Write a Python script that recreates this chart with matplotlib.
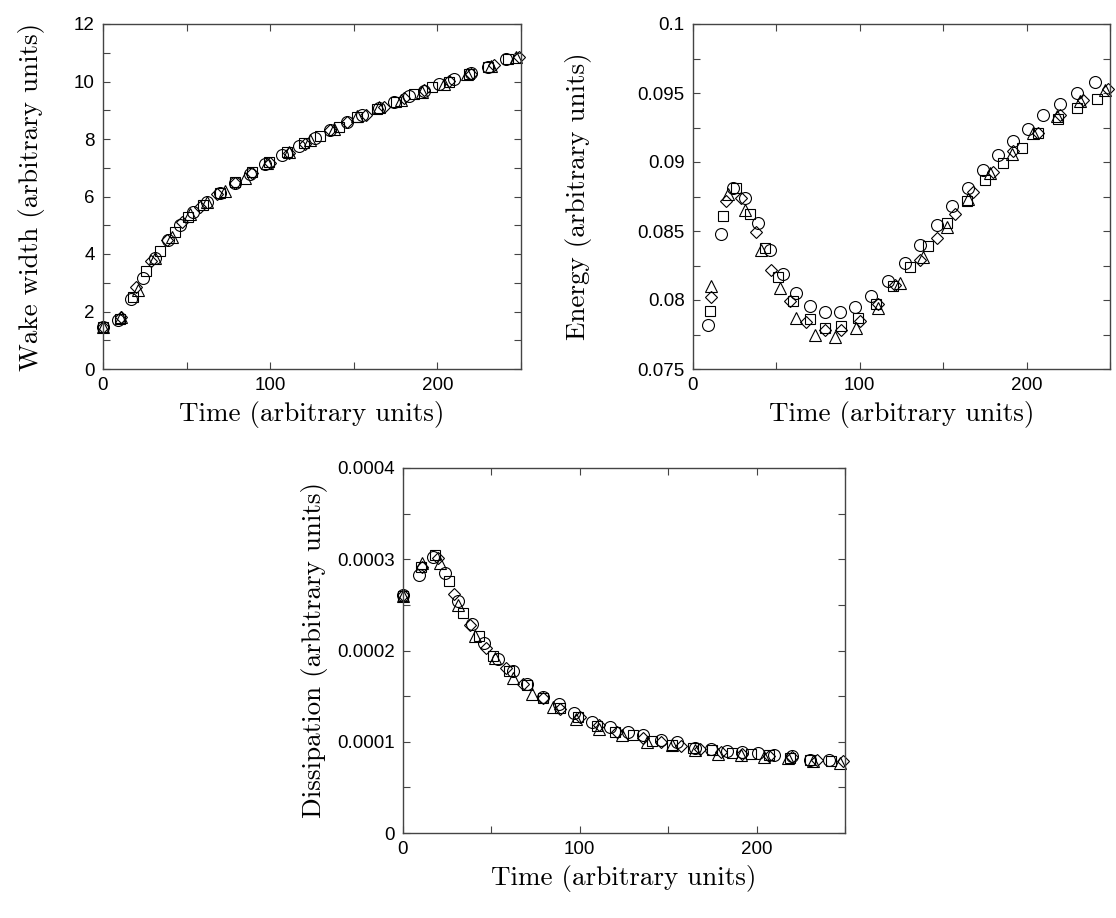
import matplotlib
matplotlib.use("Agg")
import matplotlib.pyplot as plt
import numpy as np

# ---- data ----
t_circle = [0, 9, 17, 24, 31, 39, 46, 54, 62, 70, 79, 88, 97, 107, 117, 127, 136, 146, 155, 165, 174, 183, 192, 201, 210, 220, 230, 241]
w_circle = [1.45, 1.72, 2.42, 3.15, 3.85, 4.5, 5.0, 5.45, 5.8, 6.12, 6.48, 6.8, 7.12, 7.45, 7.75, 8.02, 8.3, 8.58, 8.82, 9.08, 9.28, 9.48, 9.68, 9.9, 10.08, 10.28, 10.5, 10.77]
e_circle = [0.0782, 0.0848, 0.0881, 0.0874, 0.0856, 0.0836, 0.0819, 0.0805, 0.0796, 0.0791, 0.0791, 0.0795, 0.0803, 0.0814, 0.0827, 0.0840, 0.0854, 0.0868, 0.0881, 0.0894, 0.0905, 0.0915, 0.0924, 0.0934, 0.0942, 0.0950, 0.0958]
d_circle = [0.000261, 0.000283, 0.000303, 0.000285, 0.000254, 0.000229, 0.000208, 0.000191, 0.000177, 0.000163, 0.000149, 0.000141, 0.000131, 0.000122, 0.000116, 0.000111, 0.000107, 0.000102, 0.000100, 0.0000932, 0.000092, 0.0000902, 0.0000884, 0.0000877, 0.0000858, 0.000084, 0.0000803, 0.0000803]

t_square = [0, 10, 18, 26, 34, 43, 51, 60, 70, 79, 89, 99, 110, 120, 130, 141, 152, 164, 175, 186, 197, 207, 219, 230, 242]
w_square = [1.45, 1.75, 2.5, 3.4, 4.1, 4.75, 5.3, 5.7, 6.12, 6.5, 6.85, 7.2, 7.55, 7.85, 8.12, 8.42, 8.75, 9.05, 9.3, 9.55, 9.8, 10.0, 10.27, 10.5, 10.8]
e_square = [0.0792, 0.0861, 0.0881, 0.0862, 0.0838, 0.0817, 0.0799, 0.0786, 0.0780, 0.0781, 0.0787, 0.0797, 0.0810, 0.0824, 0.0839, 0.0856, 0.0872, 0.0887, 0.0899, 0.0910, 0.0921, 0.0931, 0.0939, 0.0946]
d_square = [0.000260, 0.000291, 0.000305, 0.000276, 0.000241, 0.000216, 0.000194, 0.000178, 0.000162, 0.000148, 0.000137, 0.000127, 0.000117, 0.000111, 0.000107, 0.000101, 0.0000965, 0.000093, 0.0000913, 0.0000877, 0.0000866, 0.000085, 0.000082, 0.000080, 0.0000785]

t_diamond = [0, 11, 20, 29, 38, 47, 58, 68, 79, 89, 100, 111, 121, 136, 146, 157, 168, 180, 192, 207, 220, 234, 249]
w_diamond = [1.45, 1.8, 2.84, 3.75, 4.5, 5.1, 5.65, 6.08, 6.48, 6.82, 7.18, 7.52, 7.82, 8.3, 8.58, 8.85, 9.12, 9.42, 9.7, 10.03, 10.27, 10.58, 10.86]
e_diamond = [0.0802, 0.0872, 0.0874, 0.0849, 0.0822, 0.0799, 0.0784, 0.0778, 0.0778, 0.0785, 0.0797, 0.0811, 0.0829, 0.0845, 0.0862, 0.0878, 0.0893, 0.0908, 0.0921, 0.0934, 0.0945, 0.0953]
d_diamond = [0.000261, 0.000292, 0.000301, 0.000262, 0.000228, 0.000203, 0.000181, 0.000163, 0.000148, 0.000136, 0.000127, 0.000118, 0.000111, 0.000104, 0.000100, 0.0000957, 0.000092, 0.0000885, 0.0000865, 0.0000847, 0.000083, 0.000080, 0.0000785]

t_triangle = [0, 11, 21, 31, 41, 52, 62, 73, 85, 98, 111, 124, 138, 152, 165, 178, 191, 204, 218, 232, 247]
w_triangle = [1.45, 1.8, 2.75, 3.85, 4.6, 5.4, 5.8, 6.2, 6.65, 7.15, 7.55, 7.95, 8.35, 8.8, 9.1, 9.35, 9.65, 9.92, 10.25, 10.55, 10.84]
e_triangle = [0.0810, 0.0877, 0.0865, 0.0836, 0.0809, 0.0787, 0.0775, 0.0773, 0.0780, 0.0794, 0.0812, 0.0831, 0.0853, 0.0873, 0.0892, 0.0906, 0.0921, 0.0933, 0.0944, 0.0952]
d_triangle = [0.000260, 0.000296, 0.000296, 0.000250, 0.000216, 0.000192, 0.000170, 0.000152, 0.000138, 0.000125, 0.000114, 0.000107, 0.000100, 0.0000968, 0.0000913, 0.0000869, 0.0000858, 0.0000829, 0.0000822, 0.0000785, 0.0000767]

x_ticks = [0, 50, 100, 150, 200, 250]
x_labels = ["0", "", "100", "", "200", ""]
w_ticks = list(range(0, 13))
w_labels = [str(v) if v % 2 == 0 else "" for v in w_ticks]
e_ticks = [0.075, 0.0775, 0.08, 0.0825, 0.085, 0.0875, 0.09, 0.0925, 0.095, 0.0975, 0.1]
e_labels = ["0.075", "", "0.08", "", "0.085", "", "0.09", "", "0.095", "", "0.1"]
d_ticks = [0, 0.00005, 0.0001, 0.00015, 0.0002, 0.00025, 0.0003, 0.00035, 0.0004]
d_labels = ["0", "", "0.0001", "", "0.0002", "", "0.0003", "", "0.0004"]

xlabel = "Time (arbitrary units)"

W, H = 1116, 918
fig = plt.figure(figsize=(W / 100, H / 100), dpi=100)

def ax_rect(x0, y0, x1, y1):
    return [x0 / W, 1 - y1 / H, (x1 - x0) / W, (y1 - y0) / H]

ax1 = fig.add_axes(ax_rect(103, 24, 521, 369))
ax2 = fig.add_axes(ax_rect(693, 24, 1110, 369))
ax3 = fig.add_axes(ax_rect(403, 468, 845, 833))

styles = [("o", 8.6), ("s", 7.6), ("D", 6.4), ("^", 8.6)]
tick_font = "Liberation Sans"
label_font = "cmr10"

def draw(ax, series):
    for (ts, ys), (m, ms) in zip(series, styles):
        ax.plot(ts, ys, linestyle="none", marker=m, markersize=ms,
                markerfacecolor="none", markeredgecolor="black",
                markeredgewidth=0.8, clip_on=False)

draw(ax1, [(t_circle, w_circle), (t_square, w_square), (t_diamond, w_diamond), (t_triangle, w_triangle)])
draw(ax2, [(t_circle[1:], e_circle), (t_square[1:], e_square), (t_diamond[1:], e_diamond), (t_triangle[1:], e_triangle)])
draw(ax3, [(t_circle, d_circle), (t_square, d_square), (t_diamond, d_diamond), (t_triangle, d_triangle)])

def style(ax, yt, yl, ylim, ylabel, ylab_x):
    ax.set_xlim(0, 250)
    ax.set_ylim(*ylim)
    ax.set_xticks(x_ticks)
    ax.set_xticklabels(x_labels, fontfamily=tick_font, fontsize=13.5)
    ax.set_yticks(yt)
    ax.set_yticklabels(yl, fontfamily=tick_font, fontsize=13.5)
    ax.tick_params(direction="in", length=5, width=0.8, top=True, right=True,
                   color="#444444", pad=6)
    for s in ax.spines.values():
        s.set_color("#444444")
        s.set_linewidth(1.0)
    ax.set_xlabel(xlabel, fontfamily=label_font, fontsize=19.5, labelpad=5)
    ax.set_ylabel(ylabel, fontfamily=label_font, fontsize=19.5)
    ax.yaxis.set_label_coords(ylab_x, 0.5)

style(ax1, w_ticks, w_labels, (0, 12), "Wake width (arbitrary units)", -0.139)
style(ax2, e_ticks, e_labels, (0.075, 0.1), "Energy (arbitrary units)", -0.242)
style(ax3, d_ticks, d_labels, (0, 0.0004), "Dissipation (arbitrary units)", -0.170)

fig.savefig("out.png", dpi=100)
